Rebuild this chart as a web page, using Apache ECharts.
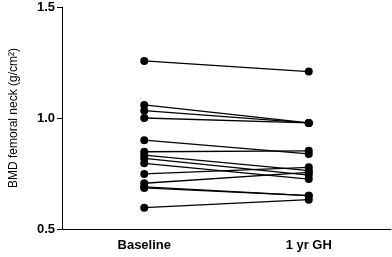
<!DOCTYPE html>
<html>
<head>
<meta charset="utf-8">
<script src="https://cdn.jsdelivr.net/npm/echarts@6/dist/echarts.min.js"></script>
<style>
  html, body { margin: 0; padding: 0; background: #fff; }
  #chart { width: 392px; height: 257px; }
</style>
</head>
<body>
<div id="chart"></div>
<script>
const categories = ["Baseline", "1 yr GH"];
const baseline = [1.257, 1.059, 1.033, 1.0, 0.9, 0.848, 0.833, 0.818, 0.796, 0.748, 0.706, 0.69, 0.685, 0.596];
const afterGH = [1.209, 0.978, 0.978, 0.978, 0.838, 0.852, 0.763, 0.743, 0.725, 0.778, 0.755, 0.65, 0.65, 0.632];
const yTicks = { min: 0.5, max: 1.5, interval: 0.5 };

const chart = echarts.init(document.getElementById("chart"));

const series = baseline.map((b, i) => ({
  type: "line",
  data: [b, afterGH[i]],
  symbol: "circle",
  symbolSize: 8,
  lineStyle: { color: "#000", width: 1.3 },
  itemStyle: { color: "#000" },
  animation: false,
}));

const option = {
  grid: { left: 55, right: 1, top: 7, bottom: 28 },
  xAxis: {
    type: "category",
    data: categories,
    boundaryGap: true,
    axisLine: { lineStyle: { color: "#000", width: 1 } },
    axisTick: { alignWithLabel: true, length: 5, lineStyle: { color: "#000" } },
    axisLabel: {
      color: "#000",
      fontFamily: "Liberation Sans",
      fontWeight: "bold",
      fontSize: 13,
      margin: 10,
    },
  },
  yAxis: {
    type: "value",
    min: yTicks.min,
    max: yTicks.max,
    interval: yTicks.interval,
    name: "BMD femoral neck (g/cm²)",
    nameLocation: "middle",
    nameGap: 42,
    nameTextStyle: { color: "#000", fontFamily: "Liberation Sans", fontSize: 12 },
    axisLine: { show: true, lineStyle: { color: "#000", width: 1 } },
    axisTick: { show: true, length: 5, lineStyle: { color: "#000" } },
    axisLabel: {
      color: "#000",
      fontFamily: "Liberation Sans",
      fontWeight: "bold",
      fontSize: 13,
      margin: 7,
      formatter: (v) => v.toFixed(1),
    },
    splitLine: { show: false },
  },
  series: series,
};

chart.setOption(option);
</script>
</body>
</html>
